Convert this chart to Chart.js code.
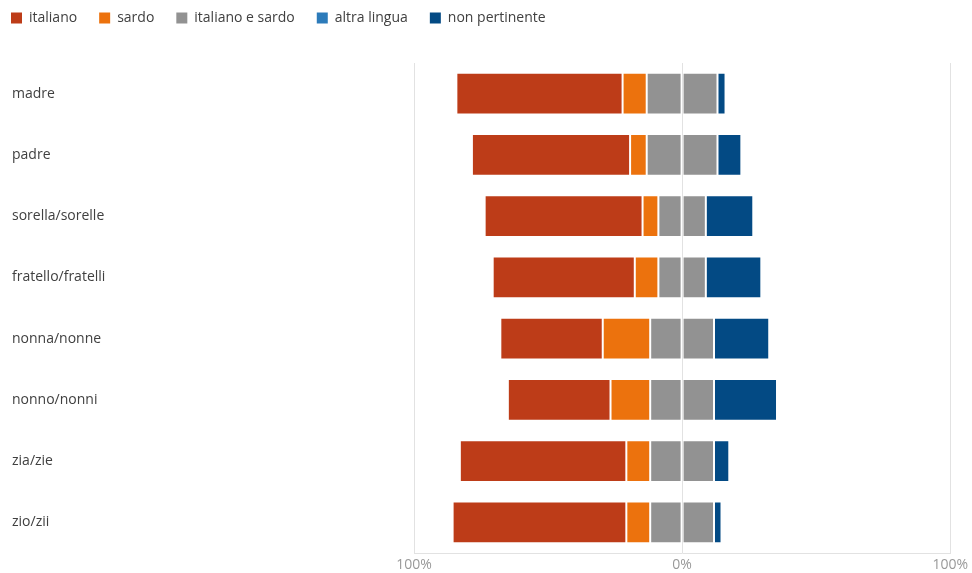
<!DOCTYPE html>
<html>
<head>
<meta charset="utf-8">
<script src="https://cdn.jsdelivr.net/npm/chart.js@4/dist/chart.umd.min.js"></script>
<style>
html,body{margin:0;padding:0;background:#fff;}
#wrap{width:972px;height:573px;position:relative;}
</style>
</head>
<body>
<div id="wrap"><canvas id="c" width="972" height="573"></canvas></div>
<script>
const categories = ["madre","padre","sorella/sorelle","fratello/fratelli","nonna/nonne","nonno/nonni","zia/zie","zio/zii"];
const italiano = [62.0, 59.0, 58.9, 53.0, 38.2, 38.3, 62.1, 64.8];
const sardo = [9.0, 6.2, 5.9, 8.8, 17.7, 14.8, 8.9, 8.9];
const italianoESardo = [26.4, 26.4, 17.7, 17.7, 23.8, 23.8, 23.8, 23.8];
const altraLingua = [0, 0, 0, 0, 0, 0, 0, 0];
const nonPertinente = [3.0, 8.9, 17.7, 20.7, 20.6, 23.5, 5.7, 2.8];
const tickLabels = ["100%", "0%", "100%"];

const colors = {
  italiano: "#BD3C18",
  sardo: "#EC720D",
  misto: "#929292",
  altra: "#2C7BBA",
  np: "#034A84"
};
const border = "rgba(255,255,255,0.15)";
const neg = a => a.map(v => -v);
const half = a => a.map(v => v / 2);

const datasets = [
  {label: "italiano e sardo", data: neg(half(italianoESardo)), backgroundColor: colors.misto, rank: 2},
  {label: "sardo", data: neg(sardo), backgroundColor: colors.sardo, rank: 1},
  {label: "italiano", data: neg(italiano), backgroundColor: colors.italiano, rank: 0},
  {label: "italiano e sardo ", data: half(italianoESardo), backgroundColor: colors.misto, rank: 99},
  {label: "altra lingua", data: altraLingua, backgroundColor: colors.altra, rank: 3},
  {label: "non pertinente", data: nonPertinente, backgroundColor: colors.np, rank: 4}
].map(d => Object.assign(d, {stack: "s", borderColor: border, borderWidth: 1, borderSkipped: false, categoryPercentage: 1, barPercentage: 0.68}));

const ranks = datasets.map(d => d.rank);

const legendShift = {
  id: "legendShift",
  afterLayout(chart) {
    const lg = chart.legend;
    if (lg) { lg.left = 11 - 22; lg.top = -11; }
  }
};

new Chart(document.getElementById("c"), {
  type: "bar",
  data: {labels: categories, datasets: datasets},
  plugins: [legendShift],
  options: {
    indexAxis: "y",
    responsive: false,
    animation: false,
    layout: {padding: {left: 12, right: 20, top: 17, bottom: 0}},
    plugins: {
      tooltip: {enabled: false},
      legend: {
        position: "top",
        align: "start",
        labels: {
          boxWidth: 11,
          boxHeight: 11,
          padding: 22,
          color: "#404040",
          font: {family: "'Open Sans', 'Noto Sans', sans-serif", size: 14},
          filter: (item) => ranks[item.datasetIndex] < 50,
          sort: (a, b) => ranks[a.datasetIndex] - ranks[b.datasetIndex],
          generateLabels: (chart) => chart.data.datasets.map((d, i) => ({
            text: d.label.trim(),
            fillStyle: d.backgroundColor,
            strokeStyle: d.backgroundColor,
            lineWidth: 0,
            hidden: false,
            datasetIndex: i,
            fontColor: "#404040"
          }))
        }
      }
    },
    scales: {
      x: {
        stacked: true,
        min: -100,
        max: 100,
        ticks: {
          stepSize: 100,
          color: "#999999",
          font: {family: "'Open Sans', 'Noto Sans', sans-serif", size: 14},
          padding: 4,
          callback: (v) => tickLabels[Math.round((v + 100) / 100)]
        },
        grid: {color: "#e2e2e2", drawTicks: false, lineWidth: 1},
        border: {display: true, color: "#e2e2e2"},
        afterFit: (scale) => { scale.height = 20; }
      },
      y: {
        stacked: true,
        ticks: {
          crossAlign: "far",
          color: "#404040",
          font: {family: "'Open Sans', 'Noto Sans', sans-serif", size: 14}
        },
        grid: {display: false},
        border: {display: false},
        afterFit: (scale) => { scale.width = 402; }
      }
    }
  }
});
</script>
</body>
</html>
